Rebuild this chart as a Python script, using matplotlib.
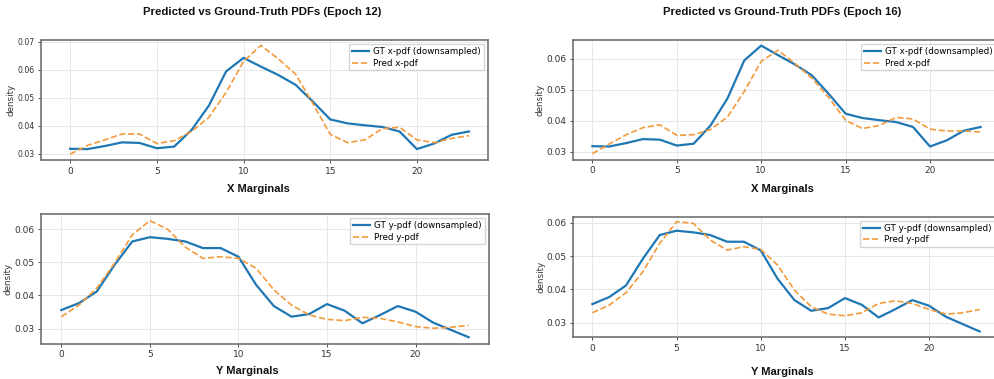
import matplotlib.pyplot as plt
import numpy as np

# datos
idx = np.arange(24)

gt_x = [0.0318, 0.0317, 0.0328, 0.0341, 0.0339, 0.0320, 0.0326, 0.0385, 0.0472, 0.0595, 0.0643, 0.0612,
        0.0582, 0.0547, 0.0487, 0.0423, 0.0409, 0.0402, 0.0396, 0.0380, 0.0317, 0.0337, 0.0368, 0.0380]
pred_x_e12 = [0.0299, 0.0330, 0.0350, 0.0371, 0.0371, 0.0337, 0.0347, 0.0380, 0.0430, 0.0520, 0.0630, 0.0688,
              0.0640, 0.0585, 0.0480, 0.0370, 0.0340, 0.0350, 0.0390, 0.0395, 0.0350, 0.0340, 0.0355, 0.0365]
pred_x_e16 = [0.0294, 0.0325, 0.0355, 0.0378, 0.0387, 0.0353, 0.0355, 0.0372, 0.0412, 0.0495, 0.0592, 0.0628,
              0.0585, 0.0538, 0.0475, 0.0402, 0.0375, 0.0385, 0.0411, 0.0406, 0.0373, 0.0367, 0.0367, 0.0364]

gt_y = [0.0356, 0.0377, 0.0412, 0.0492, 0.0563, 0.0576, 0.0571, 0.0563, 0.0543, 0.0543, 0.0517, 0.0432,
        0.0368, 0.0336, 0.0344, 0.0374, 0.0354, 0.0316, 0.0341, 0.0368, 0.0351, 0.0318, 0.0296, 0.0274]
pred_y_e12 = [0.0336, 0.0371, 0.0422, 0.0497, 0.0583, 0.0626, 0.0600, 0.0546, 0.0512, 0.0517, 0.0512, 0.0482,
              0.0417, 0.0371, 0.0341, 0.0328, 0.0324, 0.0334, 0.0331, 0.0320, 0.0306, 0.0301, 0.0304, 0.0310]
pred_y_e16 = [0.0330, 0.0353, 0.0390, 0.0453, 0.0538, 0.0603, 0.0598, 0.0548, 0.0518, 0.0528, 0.0520, 0.0473,
              0.0398, 0.0348, 0.0326, 0.0321, 0.0330, 0.0358, 0.0366, 0.0358, 0.0340, 0.0326, 0.0330, 0.0340]

W, H = 995, 379
fig = plt.figure(figsize=(W / 100, H / 100), dpi=100)


def caja(left, right, top, bottom):
    # rectangulo en pixeles -> fraccion de figura
    return [left / W, 1 - bottom / H, (right - left) / W, (bottom - top) / H]


paneles = [
    # (pixeles l, r, t, b), gt, pred, etiquetas, xlim, ylim, yticks, x del rotulo "density", tamano ticks y
    ((41.5, 488, 40, 160), gt_x, pred_x_e12, 'GT x-pdf (downsampled)', 'Pred x-pdf',
     (-1.65, 24.1), (0.0278, 0.0707), [0.03, 0.04, 0.05, 0.06, 0.07], 11.5, 5.6),
    ((573, 1000, 40, 159.5), gt_x, pred_x_e16, 'GT x-pdf (downsampled)', 'Pred x-pdf',
     (-1.15, 24.15), (0.0275, 0.0661), [0.03, 0.04, 0.05, 0.06], 541, 6.5),
    ((41, 489, 214, 343.5), gt_y, pred_y_e12, 'GT y-pdf (downsampled)', 'Pred y-pdf',
     (-1.15, 24.15), (0.0255, 0.0646), [0.03, 0.04, 0.05, 0.06], 8.5, 6.5),
    ((573, 999, 216.7, 336.8), gt_y, pred_y_e16, 'GT y-pdf (downsampled)', 'Pred y-pdf',
     (-1.15, 24.15), (0.0258, 0.0618), [0.03, 0.04, 0.05, 0.06], 541.5, 6.5),
]

for px, gt, pred, lab_gt, lab_pred, xl, yl, yt, xlab, tam in paneles:
    l, r, t, b = px
    ax = fig.add_axes(caja(l, r, t, b))
    ax.plot(idx, gt, color='#1f77b4', lw=1.6, label=lab_gt)
    ax.plot(idx, pred, color='#f39a3c', lw=1.2, ls='--', label=lab_pred)
    ax.set_xlim(xl)
    ax.set_ylim(yl)
    ax.set_xticks([0, 5, 10, 15, 20])
    ax.set_yticks(yt)
    ax.tick_params(labelsize=6.5, length=2.5, width=0.6, pad=2.5, colors='#333333')
    ax.tick_params(axis='y', labelsize=tam)
    ax.set_ylabel('density', fontsize=6.3, color='#333333')
    # el anclaje del rotulo vertical es su borde derecho
    ax.yaxis.set_label_coords((xlab + 4 - l) / (r - l), 0.5)
    ax.grid(True, color='#dddddd', lw=0.6, alpha=0.8)
    for s in ax.spines.values():
        s.set_color('#666666')
        s.set_linewidth(1.1)
    ax.legend(loc='upper right', fontsize=6.3, frameon=True, fancybox=False,
              edgecolor='#cccccc', handlelength=2.0, handletextpad=0.45,
              borderpad=0.3, labelspacing=0.3, borderaxespad=0.5)

# titulos y rotulos
fuente = dict(fontfamily='Liberation Sans', fontweight='bold', ha='center', va='center', color='#111111')
fig.text(262 / W, 1 - 11.7 / H, 'Predicted vs Ground-Truth PDFs (Epoch 12)', fontsize=8.2, **fuente)
fig.text(782 / W, 1 - 11.7 / H, 'Predicted vs Ground-Truth PDFs (Epoch 16)', fontsize=8.2, **fuente)
fig.text(258 / W, 1 - 188.5 / H, 'X Marginals', fontsize=8.0, **fuente)
fig.text(782 / W, 1 - 188.5 / H, 'X Marginals', fontsize=8.0, **fuente)
fig.text(247 / W, 1 - 371 / H, 'Y Marginals', fontsize=8.0, **fuente)
fig.text(782 / W, 1 - 371.7 / H, 'Y Marginals', fontsize=8.0, **fuente)

fig.savefig('out.png', dpi=100)
